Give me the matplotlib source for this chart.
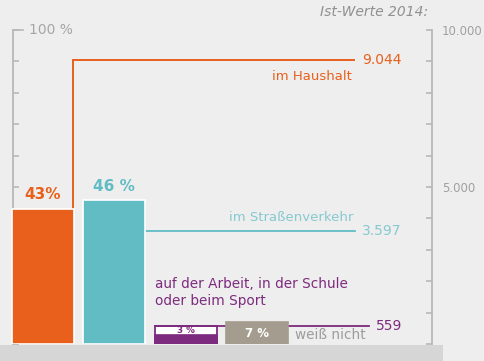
import matplotlib
matplotlib.use("Agg")
import matplotlib.pyplot as plt
from matplotlib.patches import Rectangle

# Where accidents happen: share of cases (%) and actual counts 2014
categories = ["im Haushalt", "im Straßenverkehr",
              "auf der Arbeit, in der Schule\noder beim Sport", "weiß nicht"]
share_pct = [43, 46, 3, 7]
share_labels = ["43%", "46 %", "3 %", "7 %"]
count_2014 = [9044, 3597, 559]
count_labels = ["9.044", "3.597", "559"]
count_ticks = list(range(0, 10001, 1000))
count_tick_labels = {5000: "5.000", 10000: "10.000"}
pct_ticks = list(range(0, 101, 10))

ORANGE = "#e8601c"
TEAL = "#62bcc4"
TEAL_LIGHT = "#86c9cf"
PURPLE = "#7d2b7e"
TAUPE = "#a49c8f"
AXIS = "#b8b8b8"
AXIS_TEXT = "#a6a6a6"
BG = "#eeeeee"

W, H = 485, 361
fig = plt.figure(figsize=(W / 100, H / 100), dpi=100, facecolor=BG)

# pixel layout: rows of 0 % / 100 %, bar pitch and first bar centre
Y0, Y100 = 344, 30
STEP, C0 = 71.3, 43


def xd(px):
    return (px - C0) / STEP


ax = fig.add_axes([0, (H - Y0) / H, 1, (Y0 - Y100) / H])
ax2 = ax.twinx()
ax.set_zorder(2)
ax2.set_zorder(1)
for a in (ax, ax2):
    a.patch.set_visible(False)
    for s in a.spines.values():
        s.set_visible(False)

# grey floor band
fig.patches.append(Rectangle((0, 0), 443 / W, (H - 345) / H, transform=fig.transFigure,
                             facecolor="#d6d6d6", edgecolor="none", zorder=0))

centers = list(range(len(share_pct)))
width = 62 / STEP
half = width / 2
colors = [ORANGE, TEAL, PURPLE, TAUPE]
edges = ["white", "white", PURPLE, TAUPE]
ax.bar(centers, share_pct, width=width, color=colors, edgecolor=edges, linewidth=1.2, zorder=1)

# connectors to the count scale
x_end = [xd(355), xd(355), xd(369)]
ax2.plot([xd(73), xd(73), x_end[0]], [0, count_2014[0], count_2014[0]],
         color=ORANGE, lw=1.4, solid_joinstyle="miter", solid_capstyle="butt")
ax2.plot([centers[1] + half, x_end[1]], [count_2014[1]] * 2, color=TEAL, lw=1.3)
ax2.bar(centers[2], count_2014[2], width=width, color="white", edgecolor=PURPLE, linewidth=1.3)
ax2.plot([centers[2] - half, x_end[2]], [count_2014[2]] * 2, color=PURPLE, lw=1.3)

count_colors = [ORANGE, TEAL_LIGHT, PURPLE]
for i, (v, lab) in enumerate(zip(count_2014, count_labels)):
    ax2.annotate(lab, (x_end[i], v), xytext=(7, 0), textcoords="offset pixels",
                 ha="left", va="center", fontsize=10, color=count_colors[i])

ax2.annotate(categories[0], (xd(352), count_2014[0]), xytext=(0, -16), textcoords="offset pixels",
             ha="right", va="center", fontsize=9.5, color=ORANGE)
ax2.annotate(categories[1], (xd(353), count_2014[1]), xytext=(0, 14), textcoords="offset pixels",
             ha="right", va="center", fontsize=9.5, color=TEAL_LIGHT)
ax2.annotate(categories[2], (centers[2] - half, count_2014[2]), xytext=(0, 34), textcoords="offset pixels",
             ha="left", va="center", fontsize=9.8, color=PURPLE, linespacing=1.25)
ax.annotate(categories[3], (centers[3] + half, 0), xytext=(7, 9), textcoords="offset pixels",
            ha="left", va="center", fontsize=9.8, color="#9c9c9c")

# share labels
ax.annotate(share_labels[0], (centers[0], share_pct[0]), xytext=(0, 14), textcoords="offset pixels",
            ha="center", va="center", fontsize=11, fontweight="bold", color=ORANGE)
ax.annotate(share_labels[1], (centers[1], share_pct[1]), xytext=(0, 13), textcoords="offset pixels",
            ha="center", va="center", fontsize=11, fontweight="bold", color=TEAL)
ax.annotate(share_labels[2], (centers[2], share_pct[2]), xytext=(0, 4.5), textcoords="offset pixels",
            ha="center", va="center", fontsize=6.3, fontweight="bold", color=PURPLE)
ax.annotate(share_labels[3], (centers[3], share_pct[3] / 2), ha="center", va="center",
            fontsize=8.5, fontweight="bold", color="white")

# left percentage scale
ax.spines["left"].set_visible(True)
ax.spines["left"].set_position(("data", xd(13)))
ax.spines["left"].set_bounds(0, 100)
ax.spines["left"].set_color(AXIS)
ax.spines["left"].set_linewidth(1.3)
ax.spines["left"].set_zorder(0.5)
ax.yaxis.set_zorder(0.5)
ax.set_yticks(pct_ticks)
ax.tick_params(axis="y", direction="in", length=4.3, width=1.2, color=AXIS, labelleft=False)
ax.plot([xd(13), xd(23)], [100, 100], color=AXIS, lw=1.2, clip_on=False, zorder=0.5)
ax.text(xd(29), 100, "100 %", ha="left", va="center", fontsize=10, color=AXIS_TEXT)

# right count scale
ax2.spines["right"].set_visible(True)
ax2.spines["right"].set_position(("data", xd(432)))
ax2.spines["right"].set_bounds(0, 10000)
ax2.spines["right"].set_color(AXIS)
ax2.spines["right"].set_linewidth(1.3)
ax2.set_yticks(count_ticks, labels=[count_tick_labels.get(t, "") for t in count_ticks])
ax2.tick_params(axis="y", direction="in", length=4.3, width=1.2, color=AXIS,
                labelsize=8.5, labelcolor="#a0a0a0", pad=7)
ax.tick_params(axis="x", bottom=False, labelbottom=False)

ax.set_xlim(xd(0), xd(W))
ax.set_ylim(0, 100)
ax2.set_ylim(0, 10000)

fig.text(428 / W, 1 - 12 / H, "Ist-Werte 2014:", ha="right", va="center",
         style="italic", fontsize=10, color="#909090")

fig.savefig("out.png", dpi=100, facecolor=BG)
